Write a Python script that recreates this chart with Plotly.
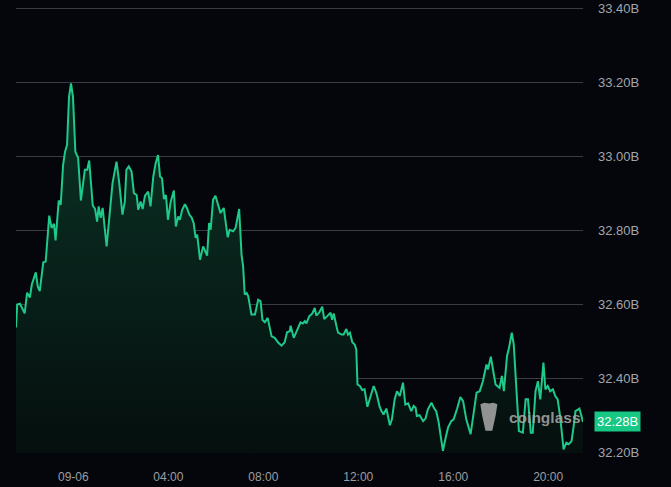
import pandas as pd
import plotly.graph_objects as go

# minutes relative to 2024-09-06 00:00 and open interest values (billions)
minutes = [-145, -142, -135, -123, -117, -110, -105, -95, -90, -85, -76, -70, -61, -55, -49, -45,
           -37, -32, -26, -21, -16, -11, -6, -1, 5, 12, 19, 29, 35, 40, 49, 55, 60, 64, 69, 74,
           84, 92, 99, 109, 116, 124, 130, 134, 140, 147, 153, 160, 164, 170, 175, 181, 189, 195,
           202, 208, 214, 219, 224, 229, 234, 239, 246, 254, 259, 265, 269, 275, 282, 287, 293,
           299, 304, 309, 313, 320, 328, 338, 343, 347, 353, 359, 366, 372, 380, 390, 395, 404,
           410, 419, 425, 429, 433, 438, 442, 450, 459, 467, 473, 478, 484, 491, 501, 509, 517,
           526, 534, 540, 547, 549, 557, 565, 574, 580, 585, 589, 596, 604, 610, 614, 621, 629,
           634, 641, 650, 654, 658, 665, 669, 678, 683, 690, 694, 699, 705, 711, 715, 718, 724,
           730, 736, 743, 751, 759, 766, 774, 779, 784, 791, 800, 805, 812, 818, 825, 833, 839,
           846, 850, 854, 860, 865, 868, 875, 884, 890, 896, 905, 911, 917, 923, 928, 934, 941,
           947, 955, 961, 970, 978, 985, 993, 1004, 1010, 1019, 1027, 1035, 1044, 1048, 1055,
           1060, 1067, 1077, 1083, 1088, 1096, 1101, 1108, 1113, 1119, 1126, 1136, 1143, 1149,
           1156, 1161, 1168, 1174, 1180, 1188, 1193, 1199, 1205, 1212, 1218, 1224, 1230, 1239,
           1246, 1252, 1259, 1264, 1269, 1279, 1288]
values = [32.537, 32.599, 32.601, 32.575, 32.631, 32.618, 32.653, 32.686, 32.648, 32.635, 32.713,
          32.715, 32.839, 32.806, 32.817, 32.772, 32.880, 32.868, 32.976, 33.012, 33.030, 33.160,
          33.196, 33.160, 33.012, 32.995, 32.880, 32.963, 32.963, 32.988, 32.866, 32.857, 32.823,
          32.864, 32.833, 32.860, 32.756, 32.837, 32.927, 32.985, 32.927, 32.842, 32.877, 32.963,
          32.972, 32.958, 32.900, 32.895, 32.855, 32.877, 32.857, 32.893, 32.904, 32.864, 32.945,
          32.981, 33.003, 32.945, 32.940, 32.884, 32.895, 32.828, 32.877, 32.907, 32.810, 32.837,
          32.828, 32.855, 32.870, 32.860, 32.842, 32.834, 32.819, 32.779, 32.788, 32.720, 32.756,
          32.731, 32.819, 32.801, 32.882, 32.893, 32.864, 32.846, 32.860, 32.781, 32.801, 32.797,
          32.806, 32.857, 32.734, 32.702, 32.626, 32.630, 32.621, 32.572, 32.572, 32.612, 32.608,
          32.557, 32.551, 32.563, 32.513, 32.509, 32.497, 32.488, 32.497, 32.524, 32.527, 32.542,
          32.509, 32.527, 32.551, 32.548, 32.554, 32.548, 32.567, 32.575, 32.590, 32.569, 32.577,
          32.593, 32.560, 32.567, 32.577, 32.558, 32.575, 32.540, 32.523, 32.518, 32.518, 32.533,
          32.518, 32.523, 32.497, 32.491, 32.478, 32.383, 32.379, 32.368, 32.370, 32.323, 32.352,
          32.379, 32.359, 32.323, 32.311, 32.302, 32.318, 32.273, 32.289, 32.343, 32.365, 32.352,
          32.388, 32.329, 32.332, 32.320, 32.311, 32.325, 32.320, 32.298, 32.300, 32.284, 32.291,
          32.316, 32.334, 32.320, 32.311, 32.282, 32.249, 32.204, 32.240, 32.267, 32.284, 32.289,
          32.318, 32.349, 32.338, 32.289, 32.249, 32.298, 32.361, 32.365, 32.392, 32.437, 32.424,
          32.458, 32.424, 32.383, 32.374, 32.406, 32.365, 32.460, 32.482, 32.523, 32.491, 32.379,
          32.257, 32.253, 32.343, 32.343, 32.253, 32.253, 32.365, 32.392, 32.343, 32.442, 32.370,
          32.379, 32.365, 32.370, 32.352, 32.343, 32.298, 32.208, 32.226, 32.222, 32.230, 32.267,
          32.311, 32.318, 32.282]

base_day = "2024-09-06"
x_tick_hours = [0, 4, 8, 12, 16, 20]
x_tick_labels = ["09-06", "04:00", "08:00", "12:00", "16:00", "20:00"]
y_tick_vals = [32.2, 32.4, 32.6, 32.8, 33.0, 33.2, 33.4]
y_tick_labels = ["32.20B", "32.40B", "32.60B", "32.80B", "33.00B", "33.20B", "33.40B"]
last_label = "32.28B"

base = pd.Timestamp(base_day)
times = [base + pd.Timedelta(minutes=m) for m in minutes]
tickvals = [base + pd.Timedelta(hours=h) for h in x_tick_hours]

BG = "#04060b"
LINE = "#1fc98a"

fig = go.Figure()
fig.add_trace(go.Scatter(
    x=times, y=values, mode="lines",
    line=dict(color=LINE, width=2),
    fill="tozeroy",
    fillgradient=dict(type="vertical", start=32.2, stop=33.2,
                      colorscale=[[0, "#050f0e"], [1, "#0b3426"]]),
    hoverinfo="skip", showlegend=False,
))

fig.update_layout(
    width=671, height=487,
    paper_bgcolor=BG, plot_bgcolor=BG,
    margin=dict(l=16, r=88, t=4, b=34),
    font=dict(family="Liberation Sans, Arial, sans-serif", color="#a3a5aa", size=13),
    xaxis=dict(
        range=[times[0], times[-1]],
        tickvals=tickvals, ticktext=x_tick_labels,
        showgrid=False, zeroline=False, showline=False,
        tickfont=dict(size=12, color="#9c9ea3"),
        ticklabelstandoff=15, automargin=False,
    ),
    yaxis=dict(
        side="right", range=[32.198, 33.4108],
        tickvals=y_tick_vals, ticktext=y_tick_labels,
        showgrid=True, gridcolor="#3a3c43", gridwidth=1,
        zeroline=False, showline=False,
        tickfont=dict(size=13, color="#a3a5aa"),
        ticklabelstandoff=14, automargin=False,
    ),
)

# last value badge
fig.add_annotation(
    xref="paper", yref="y", x=1.019, y=values[-1], xanchor="left", yanchor="middle",
    text=last_label, showarrow=False,
    font=dict(color="#ffffff", size=13, family="Liberation Sans, Arial, sans-serif"),
    bgcolor="#17c784", borderpad=2,
)

# watermark
fig.add_annotation(
    xref="paper", yref="y", x=0.866, y=32.294, xanchor="left", yanchor="middle",
    text="<b>coinglass</b>", showarrow=False,
    font=dict(color="rgba(170,170,170,0.85)", size=15.5, family="Liberation Sans, Arial, sans-serif"),
)
fig.add_shape(
    type="path", xref="paper", yref="y",
    path="M 0.819 32.330 L 0.826 32.334 L 0.834 32.332 L 0.842 32.334 L 0.849 32.330 "
         "L 0.846 32.300 L 0.840 32.258 L 0.828 32.258 L 0.822 32.300 Z",
    fillcolor="rgba(170,170,170,0.85)", line=dict(width=0),
)

fig.write_html("out.html", config={"displayModeBar": False},
               post_script="document.body.style.margin='0';")
